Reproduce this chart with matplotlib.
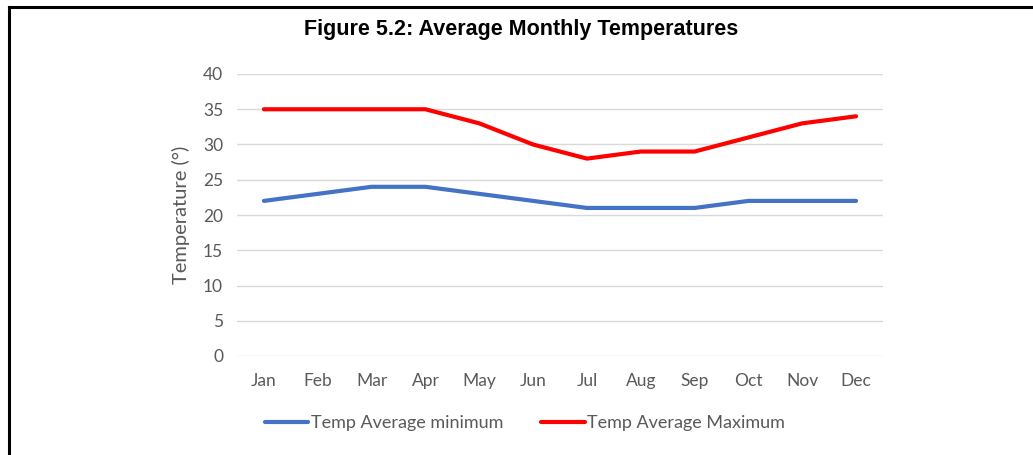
import matplotlib.pyplot as plt
from matplotlib.lines import Line2D

months = ['Jan', 'Feb', 'Mar', 'Apr', 'May', 'Jun', 'Jul', 'Aug', 'Sep', 'Oct', 'Nov', 'Dec']
temp_min = [22, 23, 24, 24, 23, 22, 21, 21, 21, 22, 22, 22]
temp_max = [35, 35, 35, 35, 33, 30, 28, 29, 29, 31, 33, 34]
yticks = [0, 5, 10, 15, 20, 25, 30, 35, 40]

plt.rcParams['font.family'] = ['Lato', 'DejaVu Sans']

fig = plt.figure(figsize=(10.33, 4.55), dpi=100)
ax = fig.add_axes([237 / 1033, 1 - 356 / 455, (883 - 237) / 1033, (356 - 74) / 455])

x = range(len(months))
ax.plot(x, temp_min, color='#4472C4', linewidth=3.0, solid_capstyle='round',
        solid_joinstyle='round', label='Temp Average minimum')
ax.plot(x, temp_max, color='#FF0000', linewidth=3.0, solid_capstyle='round',
        solid_joinstyle='round', label='Temp Average Maximum')

ax.set_xlim(-0.5, len(months) - 0.5)
ax.set_ylim(0, 40)
ax.set_yticks(yticks)
ax.set_xticks(list(x))
ax.set_xticklabels(months)
ax.tick_params(axis='both', length=0, labelsize=12.5, colors='#595959')
ax.tick_params(axis='x', pad=12)
ax.tick_params(axis='y', pad=10)
ax.grid(axis='y', color='#D9D9D9', linewidth=1)
ax.set_axisbelow(True)
for s in ax.spines.values():
    s.set_visible(False)

ax.set_ylabel('Temperature (°)', fontsize=14.5, color='#595959', labelpad=9)

fig.text(521 / 1033, 1 - 29.5 / 455, 'Figure 5.2: Average Monthly Temperatures',
         ha='center', va='center', fontsize=15.5, fontweight='bold',
         family='Liberation Sans', color='black')

ax.legend(loc='center', bbox_to_anchor=(525 / 1033, 1 - 423 / 455),
          bbox_transform=fig.transFigure, ncol=2, frameon=False, fontsize=13,
          labelcolor='#595959', handlelength=2.4, handletextpad=0.15,
          columnspacing=2.1)

# frame lines on top and left edges
fig.add_artist(Line2D([8.5 / 1033, 1], [1 - 7 / 455, 1 - 7 / 455], color='black',
                      linewidth=2.2, transform=fig.transFigure))
fig.add_artist(Line2D([8.5 / 1033, 8.5 / 1033], [0, 1 - 7 / 455], color='black',
                      linewidth=2.2, transform=fig.transFigure))

fig.savefig('out.png', dpi=100, facecolor='white')
